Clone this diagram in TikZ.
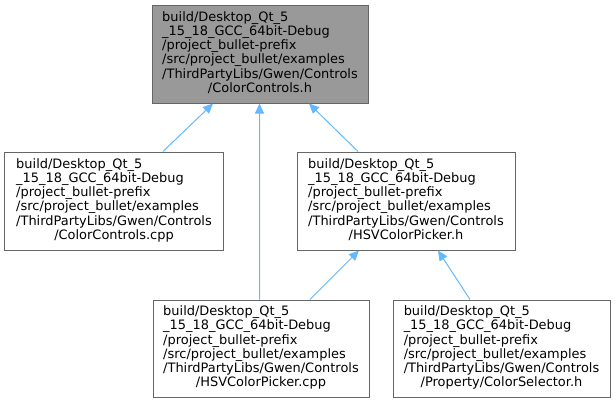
\documentclass[tikz,border=0pt]{standalone}
\usepackage{fontspec}
\setmainfont{DejaVu Sans}
\usetikzlibrary{arrows.meta}
\definecolor{edgeblue}{HTML}{63B8FF}
\definecolor{boxborder}{HTML}{666666}
\definecolor{boxgray}{HTML}{999999}
\newcommand{\flabel}[1]{\begin{tabular}{@{}l@{}}build/Desktop\_Qt\_5\\\_15\_18\_GCC\_64bit-Debug\\/project\_bullet-prefix\\/src/project\_bullet/examples\\/ThirdPartyLibs/Gwen/Controls\\\multicolumn{1}{@{}c@{}}{#1}\end{tabular}}
\begin{document}
\begin{tikzpicture}[x=1bp,y=-1bp,
  filebox/.style={draw=boxborder,fill=white,line width=1bp,inner sep=0pt,minimum width=216bp,minimum height=98bp,
    font=\fontsize{13}{14.3}\selectfont},
  edge/.style={draw=edgeblue,line width=1bp,{Triangle[length=10bp,width=9bp]}-}]
\useasboundingbox (0,0) rectangle (616,403);
\node[filebox,fill=boxgray] (top) at (260,54) {\flabel{/ColorControls.h}};
\node[filebox,minimum width=218bp] (lm) at (114,201) {\flabel{/ColorControls.cpp}};
\node[filebox,minimum width=218bp] (rm) at (406,201) {\flabel{/HSVColorPicker.h}};
\node[filebox,minimum height=97bp] (bl) at (261,348.5) {\flabel{/HSVColorPicker.cpp}};
\node[filebox,minimum width=217bp,minimum height=97bp] (br) at (501.5,348.5) {\flabel{/Property/ColorSelector.h}};
\draw[edge] ([xshift=-47bp]top.south) -- ([xshift=49bp]lm.north);
\draw[edge] ([xshift=-0.5bp]top.south) -- ([xshift=-1.5bp]bl.north);
\draw[edge] ([xshift=49bp]top.south) -- ([xshift=-48bp]rm.north);
\draw[edge] ([xshift=-47bp]rm.south) -- ([xshift=49bp]bl.north);
\draw[edge] ([xshift=32bp]rm.south) -- ([xshift=-31.5bp]br.north);
\end{tikzpicture}
\end{document}
